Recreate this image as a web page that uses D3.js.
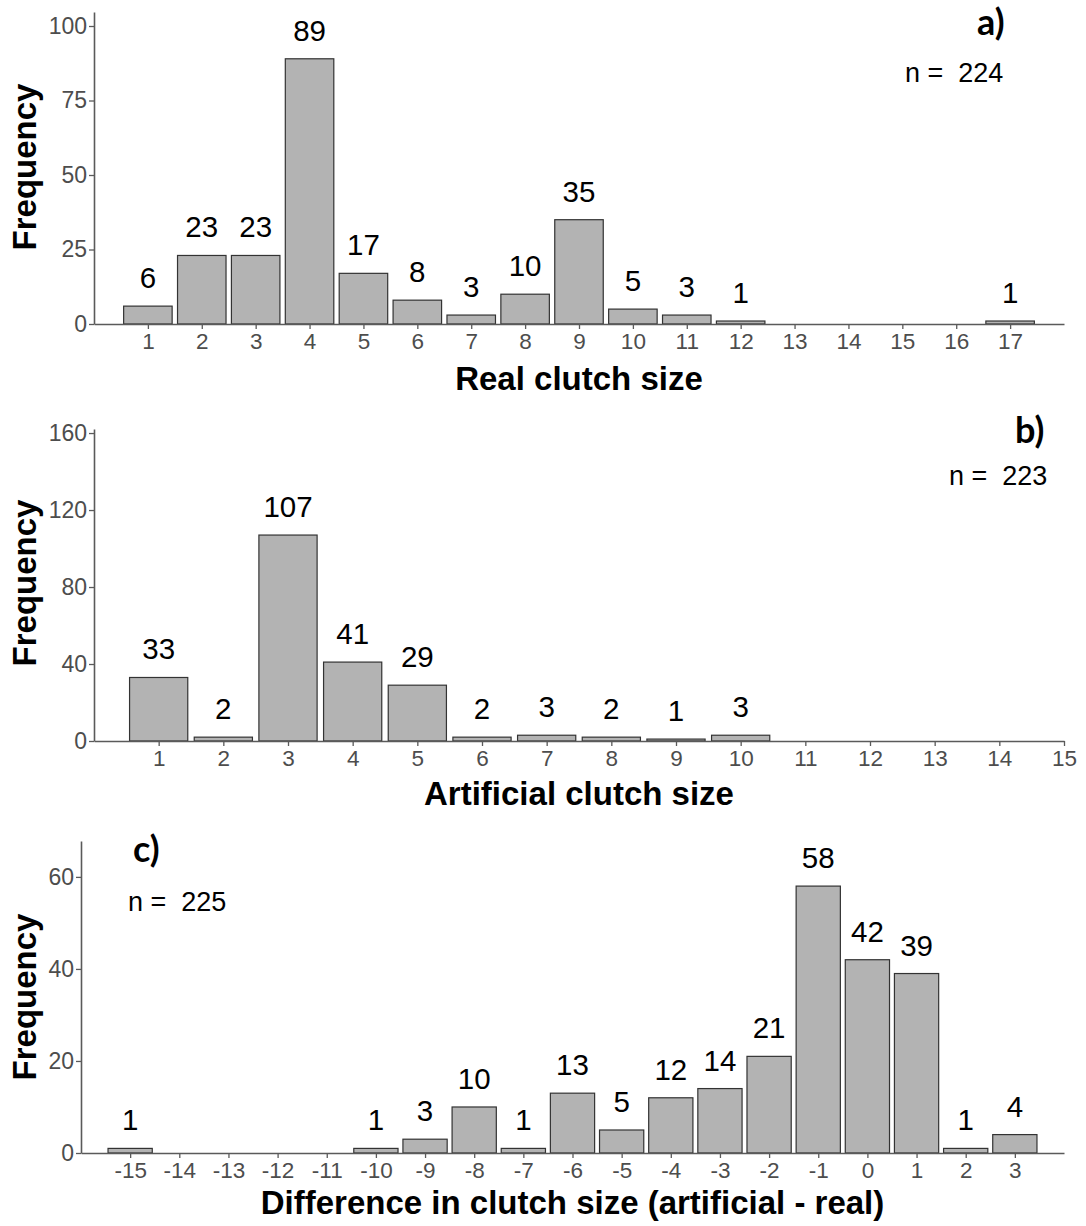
<!DOCTYPE html>
<html>
<head>
<meta charset="utf-8">
<script src="https://cdn.jsdelivr.net/npm/d3@7"></script>
<style>
  html, body { margin: 0; padding: 0; background: #fff; }
  svg { display: block; }
  text { white-space: pre; }
</style>
</head>
<body>
<svg id="chart" width="1086" height="1226"></svg>
<script>
// ---- Data ----
const realSizes = [1, 2, 3, 4, 5, 6, 7, 8, 9, 10, 11, 12, 17];
const realCounts = [6, 23, 23, 89, 17, 8, 3, 10, 35, 5, 3, 1, 1];
const realTicks = d3.range(1, 18);

const artSizes = [1, 2, 3, 4, 5, 6, 7, 8, 9, 10];
const artCounts = [33, 2, 107, 41, 29, 2, 3, 2, 1, 3];
const artTicks = d3.range(1, 16);

const diffSizes = [-15, -10, -9, -8, -7, -6, -5, -4, -3, -2, -1, 0, 1, 2, 3];
const diffCounts = [1, 1, 3, 10, 1, 13, 5, 12, 14, 21, 58, 42, 39, 1, 4];
const diffTicks = d3.range(-15, 4);

const panels = [
  {
    sizes: realSizes, counts: realCounts, xticks: realTicks,
    yticks: [0, 25, 50, 75, 100],
    xDomain: [0, 18], xRange: [94, 1064],
    yDomain: [0, 104.7], yRange: [324, 12],
    xTitle: "Real clutch size", xTitleY: 390, yTitleCY: 167,
    tag: "a)", tagX: 977, tagY: 35,
    nText: "n =  224", nX: 905, nY: 82
  },
  {
    sizes: artSizes, counts: artCounts, xticks: artTicks,
    yticks: [0, 40, 80, 120, 160],
    xDomain: [0, 15], xRange: [94, 1064],
    yDomain: [0, 162.1], yRange: [741, 429],
    xTitle: "Artificial clutch size", xTitleY: 805, yTitleCY: 583,
    tag: "b)", tagX: 1015, tagY: 443,
    nText: "n =  223", nX: 949, nY: 485
  },
  {
    sizes: diffSizes, counts: diffCounts, xticks: diffTicks,
    yticks: [0, 20, 40, 60],
    xDomain: [-16, 4], xRange: [81, 1064],
    yDomain: [0, 67.8], yRange: [1153, 841],
    xTitle: "Difference in clutch size (artificial - real)", xTitleY: 1214, yTitleCY: 997,
    tag: "c)", tagX: 133, tagY: 862,
    nText: "n =  225", nX: 128, nY: 911
  }
];

const FONT = "'Liberation Sans', Arial, Helvetica, sans-serif";
const svg = d3.select("#chart");
const axisColor = "#5a5a5a";
const tickTextColor = "#4D4D4D";

panels.forEach(p => {
  const x = d3.scaleLinear().domain(p.xDomain).range(p.xRange);
  const y = d3.scaleLinear().domain(p.yDomain).range(p.yRange);
  const g = svg.append("g");
  const bw = x(0.9) - x(0);

  // bars
  const data = p.sizes.map((s, i) => ({ s, c: p.counts[i] }));
  g.selectAll("rect.bar").data(data).enter().append("rect")
    .attr("class", "bar")
    .attr("x", d => x(d.s) - bw / 2)
    .attr("width", bw)
    .attr("y", d => y(d.c))
    .attr("height", d => y(0) - y(d.c))
    .attr("fill", "#B3B3B3")
    .attr("stroke", "#333333")
    .attr("stroke-width", 1.2);

  // bar labels
  g.selectAll("text.lab").data(data).enter().append("text")
    .attr("class", "lab")
    .attr("x", d => x(d.s))
    .attr("y", d => y(d.c) - 18)
    .attr("text-anchor", "middle")
    .attr("font-family", FONT)
    .attr("font-size", 29.5)
    .attr("fill", "#000")
    .text(d => d.c);

  // x axis
  const xAxis = d3.axisBottom(x).tickValues(p.xticks).tickSize(5).tickSizeOuter(0).tickPadding(4)
    .tickFormat(d3.format("d"));
  const gx = g.append("g").attr("transform", `translate(0,${y(0)})`).call(xAxis);
  gx.select(".domain").attr("stroke", axisColor).attr("stroke-width", 1.6);
  gx.selectAll(".tick line").attr("stroke", axisColor).attr("stroke-width", 1.3);
  gx.selectAll(".tick text")
    .attr("font-family", FONT)
    .attr("font-size", 22.5)
    .attr("fill", tickTextColor)
    .text(d => d < 0 ? "-" + Math.abs(d) : String(d));

  // y axis
  const yAxis = d3.axisLeft(y).tickValues(p.yticks).tickSize(5).tickSizeOuter(0).tickPadding(2);
  const gy = g.append("g").attr("transform", `translate(${p.xRange[0]},0)`).call(yAxis);
  gy.select(".domain").attr("stroke", axisColor).attr("stroke-width", 1.6);
  gy.selectAll(".tick line").attr("stroke", axisColor).attr("stroke-width", 1.3);
  gy.selectAll(".tick text")
    .attr("font-family", FONT)
    .attr("font-size", 23)
    .attr("fill", tickTextColor);

  // axis titles
  g.append("text")
    .attr("x", (p.xRange[0] + p.xRange[1]) / 2)
    .attr("y", p.xTitleY)
    .attr("text-anchor", "middle")
    .attr("font-family", FONT)
    .attr("font-weight", "bold")
    .attr("font-size", 33)
    .attr("fill", "#000")
    .text(p.xTitle);

  g.append("text")
    .attr("transform", `translate(36,${p.yTitleCY}) rotate(-90)`)
    .attr("text-anchor", "middle")
    .attr("font-family", FONT)
    .attr("font-weight", "bold")
    .attr("font-size", 33)
    .attr("fill", "#000")
    .text("Frequency");

  // panel tag
  g.append("text")
    .attr("x", p.tagX)
    .attr("y", p.tagY)
    .attr("font-family", "Lato, 'Open Sans', sans-serif")
    .attr("font-weight", "bold")
    .attr("font-size", 36)
    .attr("fill", "#000")
    .text(p.tag);

  // n annotation
  g.append("text")
    .attr("x", p.nX)
    .attr("y", p.nY)
    .attr("font-family", FONT)
    .attr("font-size", 27)
    .attr("fill", "#000")
    .text(p.nText);
});
</script>
</body>
</html>
